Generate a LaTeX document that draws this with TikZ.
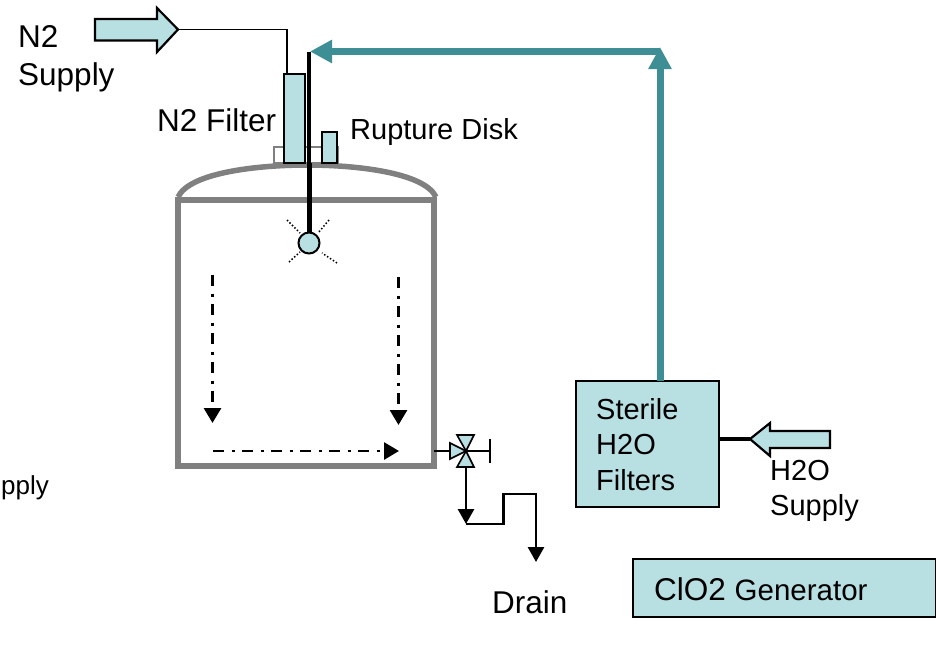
\documentclass[tikz,border=0pt]{standalone}
\usepackage{fontspec}
\setmainfont{Liberation Sans}
\definecolor{tankgray}{RGB}{128, 128, 128}
\definecolor{filterblue}{RGB}{184, 223, 226}
\definecolor{lineteal}{RGB}{62, 142, 150}
\usetikzlibrary{shapes, arrows.meta, positioning, calc}
\tikzset{
  biglabel/.style={font=\fontsize{31.5}{38}\selectfont, inner sep=0pt, align=left, anchor=north west},
  smalllabel/.style={font=\fontsize{29}{35.5}\selectfont, inner sep=0pt, align=left, anchor=north west},
  bluebox/.style={draw=black, fill=filterblue, line width=2.4pt, outer sep=0pt, inner sep=0pt},
  bluearrow/.style={draw=black, fill=filterblue, line width=2.2pt, line join=miter},
  flowline/.style={line width=2.8pt, dash pattern=on 11pt off 7.5pt on 3pt off 7.5pt, -{Triangle[length=15pt,width=17pt]}},
  drainline/.style={line width=2.8pt, -{Triangle[length=15pt,width=16pt]}},
  spray/.style={line width=1.5pt, dotted},
  tealline/.style={draw=lineteal, line width=7pt, -{Triangle[length=22pt,width=22pt]}}
}
\begin{document}
\begin{tikzpicture}[x=1pt, y=-1pt]
  \useasboundingbox (0,0) rectangle (936,657);
  % Tank with dome and nozzle plate
  \node[draw=tankgray, line width=1.5pt, outer sep=0pt, minimum width=64pt, minimum height=16pt] (plate) at (306,155) {};
  \draw[draw=tankgray, line width=5.5pt] (178,197) .. controls (190,172) and (260,165) .. (307,165) .. controls (354,165) and (424,172) .. (436,197);
  \node[draw=tankgray, line width=5.5pt, outer sep=0pt, minimum width=256pt, minimum height=266pt] (vessel) at (306,333) {};
  % Filter and rupture disk on top
  \node[bluebox, minimum width=21pt, minimum height=89pt] (n2filter) at (294.5,118.5) {};
  \node[bluebox, minimum width=15pt, minimum height=31pt] (disk) at (329.5,147.5) {};
  \node[biglabel] (n2filterlabel) at (157,108) {N2 Filter};
  \node[smalllabel] (disklabel) at (350,118) {Rupture Disk};
  % N2 supply
  \coordinate (n2tip) at (178,29.5);
  \draw[bluearrow] (95,19) -- (157,19) -- (157,8) -- (n2tip) -- (157,52) -- (157,40.5) -- (95,40.5) -- cycle;
  \node[biglabel] (n2label) at (18,25) {N2\\Supply};
  \draw[line width=1.6pt] (n2tip) -| (n2filter.north -| 287,0);
  % Spray ball
  \coordinate (watertop) at (309,52);
  \coordinate (platejoin) at (309,163);
  \node[draw=black, fill=filterblue, line width=2pt, circle, minimum size=21pt, inner sep=0pt, outer sep=0pt] (ball) at (309,243) {};
  \draw[line width=3.5pt] (watertop) -- (platejoin);
  \draw[line width=5pt] (platejoin) -- (ball.north);
  \draw[spray] (287,220) -- (300,233);
  \draw[spray] (329,220) -- (318,233);
  \draw[spray] (289,262) -- (300,252);
  \draw[spray] (337,263) -- (322,253);
  % Flow inside the tank
  \coordinate (flowa) at (212.5,275);
  \coordinate (flowb) at (212.5,423);
  \coordinate (flowc) at (398.5,277);
  \coordinate (flowd) at (398.5,425);
  \coordinate (flowe) at (213,451);
  \coordinate (flowf) at (399,451);
  \draw[flowline] (flowa) -- (flowb);
  \draw[flowline] (flowc) -- (flowd);
  \draw[flowline] (flowe) -- (flowf);
  % Drain valve
  \coordinate (valve) at (466,451);
  \coordinate (valvestub) at (490,451);
  \draw[line width=1.6pt] (vessel.east |- valve) -- (valve) -- (valvestub);
  \draw[line width=1.8pt] (490,439) -- (490,463);
  \draw[line width=1.6pt, fill=filterblue] (450,443) -- (valve) -- (450,459) -- cycle;
  \draw[line width=1.6pt, fill=filterblue] (457,435) -- (474,435) -- (valve) -- cycle;
  \draw[line width=1.6pt, fill=filterblue] (457,467) -- (474,467) -- (valve) -- cycle;
  \coordinate (trap) at (466,524);
  \coordinate (drainend) at (536,562);
  \draw[drainline] (466,467) -- (trap);
  \draw[drainline] (trap) -- (503.5,524) -- (503.5,494) -- (536,494) -- (drainend);
  \node[biglabel] (drainlabel) at (492,590.5) {Drain};
  % Sterile water loop
  \node[bluebox, minimum width=143pt, minimum height=126pt] (sterile) at (647.5,444) {};
  \node[smalllabel] (sterilelabel) at (596,398) {Sterile\\H2O\\Filters};
  \coordinate (tealtop) at (660,47);
  \coordinate (tealcorner) at (660,51.5);
  \coordinate (tealend) at (310,51.5);
  \draw[tealline] (sterile.north -| tealtop) -- (tealtop);
  \draw[tealline] (tealcorner) -- (tealend);
  % H2O supply
  \coordinate (h2otip) at (750,439);
  \draw[bluearrow] (830,431) -- (770,431) -- (770,423) -- (h2otip) -- (770,456) -- (770,448) -- (830,448) -- cycle;
  \draw[line width=4pt] (sterile.east |- h2otip) -- (h2otip);
  \node[smalllabel] (h2olabel) at (770,460) {H2O\\Supply};
  % Generator
  \node[bluebox, minimum width=303pt, minimum height=58pt] (generator) at (784.5,588) {};
  \node[anchor=base west, inner sep=0pt] (generatorlabel) at (654,600) {\fontsize{31.5}{37}\selectfont ClO2 \fontsize{29.5}{35}\selectfont Generator};
  % Cut off text on the left edge
  \node[font=\fontsize{26}{31}\selectfont, inner sep=0pt, anchor=base east] (cutlabel) at (49,494) {pply};
\end{tikzpicture}
\end{document}
